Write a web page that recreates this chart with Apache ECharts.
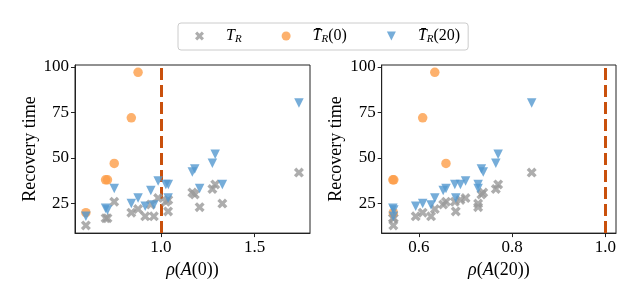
<!DOCTYPE html>
<html>
<head>
<meta charset="utf-8">
<script src="https://cdn.jsdelivr.net/npm/echarts@6/dist/echarts.min.js"></script>
<style>
html,body{margin:0;padding:0;background:#fff;}
#c{width:640px;height:284px;}
</style>
</head>
<body>
<div id="c"></div>
<script>
// One entry per network
const rho0  = [0.601, 0.706, 0.716, 0.752, 0.843, 0.879, 0.917, 0.947, 0.963, 0.986, 1.027, 1.040, 1.039, 1.181, 1.168, 1.207, 1.275, 1.290, 1.328, 1.736];
const rho20 = [0.545, 0.544, 0.546, 0.658, 0.608, 0.634, 0.593, 0.652, 0.626, 0.700, 0.677, 0.689, 0.679, 0.734, 0.738, 0.727, 0.765, 0.770, 0.727, 0.842];
const TR    = [13, 17, 17, 26, 20, 22, 18, 24.5, 18, 28, 26, 27, 20.7, 30, 31, 23, 33, 35.5, 25, 42];
const TR0   = [20, 38, 38, 47, 72, 97, null, null, null, null, null, null, null, null, null, null, null, null, null, null];
const TR20  = [18, 22.4, 21.5, 33.3, 25, 28.1, 23.5, 32.2, 24.2, 37.4, 35.4, 35.4, 28.1, 44, 42.3, 33.3, 47.1, 52.1, 35.4, 80.2];
const yTicks = [25, 50, 75, 100];
const xTicksLeft = [1.0, 1.5];
const xTicksRight = [0.6, 0.8, 1.0];
const threshold = 1.0;

const FONT = 'Liberation Serif';
const GREY = '#999999', ORANGE = '#fd9d48', BLUE = '#5499d0', DASH = '#c9500c';
const XPATH = 'path://M0,2.4L2.4,0L5,2.6L7.6,0L10,2.4L7.4,5L10,7.6L7.6,10L5,7.4L2.4,10L0,7.6L2.6,5Z';
const TRI = 'path://M0,0L10,0L5,10Z';

function pairs(xs, ys) {
  const out = [];
  for (let i = 0; i < xs.length; i++) if (ys[i] !== null) out.push([xs[i], ys[i]]);
  return out;
}

const chart = echarts.init(document.getElementById('c'), null, {renderer: 'canvas'});

function xAxis(idx, min, max, ticks, label) {
  return {
    type: 'value', gridIndex: idx, min: min, max: max,
    splitLine: {show: false},
    axisLine: {show: true, onZero: false, lineStyle: {color: '#222', width: 1}},
    axisTick: {show: true, inside: false, length: 4, customValues: ticks, lineStyle: {color: '#222'}},
    axisLabel: {show: true, customValues: ticks, margin: 6, color: '#000', fontFamily: FONT, fontSize: 17,
      formatter: v => v.toFixed(1)},
    name: label, nameLocation: 'middle', nameGap: 23,
    nameTextStyle: {color: '#000', fontFamily: FONT, fontSize: 18,
      rich: {i: {fontStyle: 'italic', fontFamily: FONT, fontSize: 18, color: '#000'},
             n: {fontFamily: FONT, fontSize: 18, color: '#000'}}}
  };
}
function yAxis(idx) {
  return {
    type: 'value', gridIndex: idx, min: 8.8, max: 101,
    splitLine: {show: false},
    axisLine: {show: true, onZero: false, lineStyle: {color: '#222', width: 1}},
    axisTick: {show: true, inside: false, length: 4, customValues: yTicks, lineStyle: {color: '#222'}},
    axisLabel: {show: true, customValues: yTicks, margin: 6, color: '#000', fontFamily: FONT, fontSize: 17},
    name: 'Recovery time', nameLocation: 'middle', nameGap: 36, nameRotate: 90,
    nameTextStyle: {color: '#000', fontFamily: FONT, fontSize: 18}
  };
}
function series(idx, xs) {
  return [
    {name: 'TR', type: 'scatter', xAxisIndex: idx, yAxisIndex: idx, symbol: XPATH, symbolSize: 10,
      itemStyle: {color: GREY}, data: pairs(xs, TR), z: 3,
      markLine: {silent: true, symbol: 'none', label: {show: false}, z: 1,
        lineStyle: {color: DASH, width: 3, type: [12, 5]}, data: [{xAxis: threshold}]}},
    {name: 'TR0', type: 'scatter', xAxisIndex: idx, yAxisIndex: idx, symbol: 'circle', symbolSize: 9.5,
      itemStyle: {color: ORANGE}, data: pairs(xs, TR0), z: 4},
    {name: 'TR20', type: 'scatter', xAxisIndex: idx, yAxisIndex: idx, symbol: TRI, symbolSize: 9.5,
      itemStyle: {color: BLUE}, data: pairs(xs, TR20), z: 5}
  ];
}

const legendText = {TR: '{i|T}{s|R}', TR0: '{i|T\u0304}{s|R}{n|(0)}', TR20: '{i|T\u0304}{s|R}{n|(20)}'};

chart.setOption({
  animation: false,
  backgroundColor: '#fff',
  grid: [
    {left: 75, top: 65, width: 235, height: 178, show: true, borderColor: '#222', borderWidth: 1},
    {left: 381.7, top: 65, width: 234.3, height: 178, show: true, borderColor: '#222', borderWidth: 1}
  ],
  legend: {
    left: 178, top: 23, orient: 'horizontal',
    data: ['TR', 'TR0', 'TR20'],
    itemWidth: 9, itemHeight: 9, itemGap: 40,
    padding: [5, 8, 5, 17],
    borderColor: '#cccccc', borderWidth: 1, borderRadius: 3,
    formatter: n => legendText[n],
    textStyle: {padding: [0, 0, 0, 17],
      rich: {
        i: {fontStyle: 'italic', fontFamily: FONT, fontSize: 16, color: '#000', lineHeight: 18},
        s: {fontStyle: 'italic', fontFamily: FONT, fontSize: 11, color: '#000', verticalAlign: 'bottom', lineHeight: 12},
        n: {fontFamily: FONT, fontSize: 16, color: '#000', lineHeight: 18}
      }}
  },
  xAxis: [
    xAxis(0, 0.543, 1.795, xTicksLeft, '{i|ρ}{n|(}{i|A}{n|(0))}'),
    xAxis(1, 0.520, 1.023, xTicksRight, '{i|ρ}{n|(}{i|A}{n|(20))}')
  ],
  yAxis: [yAxis(0), yAxis(1)],
  series: [...series(0, rho0), ...series(1, rho20)]
});
</script>
</body>
</html>
